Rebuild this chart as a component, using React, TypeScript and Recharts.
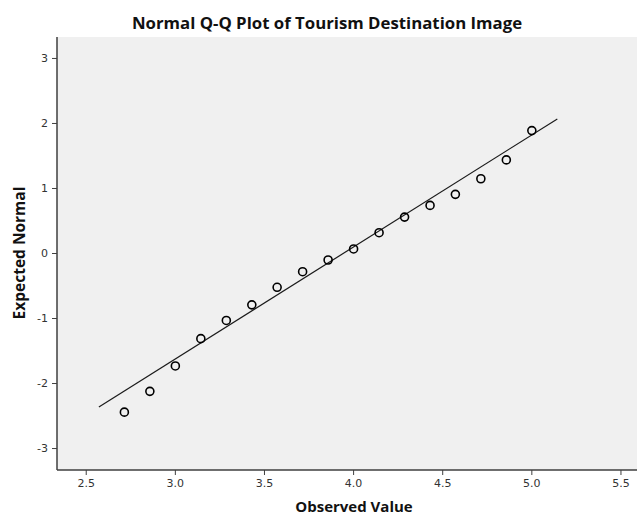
import { ScatterChart, Scatter, XAxis, YAxis, CartesianGrid } from 'recharts';

// Observed scores (steps of 1/7) and their expected normal quantiles
const observed = [2.714, 2.857, 3.0, 3.143, 3.286, 3.429, 3.571, 3.714, 3.857, 4.0, 4.143, 4.286, 4.429, 4.571, 4.714, 4.857, 5.0];
const expected = [-2.44, -2.12, -1.73, -1.31, -1.03, -0.79, -0.52, -0.28, -0.1, 0.07, 0.32, 0.56, 0.74, 0.91, 1.15, 1.44, 1.89];

// Reference line end points
const lineX = [2.571, 5.143];
const lineY = [-2.36, 2.07];

const xTicks = [2.5, 3.0, 3.5, 4.0, 4.5, 5.0, 5.5];
const yTicks = [-3, -2, -1, 0, 1, 2, 3];

const points = observed.map((x, i) => ({ x, y: expected[i] }));
const fitLine = lineX.map((x, i) => ({ x, y: lineY[i] }));

const AXIS = '#3f3f3f';
const tickStyle = { fill: '#333333', fontSize: 11, fontFamily: 'DejaVu Sans' };
const titleFont = { fontFamily: 'Open Sans', fontWeight: 700, fill: '#111111' };

const Ring = (props: any) => (
  <circle cx={props.cx} cy={props.cy} r={4} fill="none" stroke="#000000" strokeWidth={1.6} />
);

export default function App() {
  return (
    <div style={{ position: 'absolute', left: 0, top: 0, width: 637, height: 515, background: '#ffffff' }}>
      <ScatterChart width={637} height={515} margin={{ top: 37, right: 0, bottom: 0, left: 0 }}>
        <CartesianGrid fill="#f0f0f0" horizontal={false} vertical={false} />
        <XAxis
          type="number"
          dataKey="x"
          domain={[2.336, 5.59]}
          ticks={xTicks}
          tickFormatter={(v: number) => v.toFixed(1)}
          allowDataOverflow
          height={45}
          tick={tickStyle}
          tickSize={5}
          tickMargin={4}
          axisLine={{ stroke: AXIS, strokeWidth: 1.5 }}
          tickLine={{ stroke: AXIS }}
        />
        <XAxis
          xAxisId="top"
          orientation="top"
          type="number"
          domain={[2.336, 5.59]}
          height={0}
          tick={false}
          tickLine={false}
          axisLine={{ stroke: AXIS, strokeWidth: 1.5 }}
        />
        <YAxis
          type="number"
          dataKey="y"
          domain={[-3.33, 3.33]}
          ticks={yTicks}
          allowDataOverflow
          width={57}
          tick={tickStyle}
          tickSize={5}
          tickMargin={4}
          axisLine={{ stroke: AXIS, strokeWidth: 1.5 }}
          tickLine={{ stroke: AXIS }}
        />
        <Scatter
          data={fitLine}
          line={{ stroke: '#1a1a1a', strokeWidth: 1.2 }}
          shape={() => <g />}
          isAnimationActive={false}
        />
        <Scatter data={points} shape={Ring} isAnimationActive={false} />
      </ScatterChart>
      <svg width={637} height={515} style={{ position: 'absolute', left: 0, top: 0, pointerEvents: 'none' }}>
        <text x={327} y={28.5} textAnchor="middle" fontSize={16.8} {...titleFont}>
          Normal Q-Q Plot of Tourism Destination Image
        </text>
        <text x={354} y={511.5} textAnchor="middle" fontSize={15} {...titleFont}>
          Observed Value
        </text>
        <text transform="translate(25,253) rotate(-90)" textAnchor="middle" fontSize={15.5} {...titleFont}>
          Expected Normal
        </text>
      </svg>
    </div>
  );
}
